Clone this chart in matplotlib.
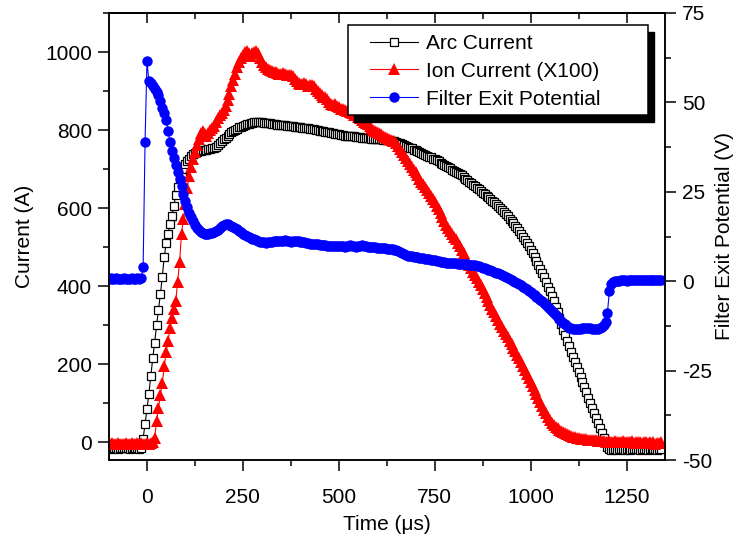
import numpy as np
import matplotlib
matplotlib.use('Agg')
import matplotlib.pyplot as plt
from matplotlib.patches import Rectangle
from matplotlib.ticker import MultipleLocator, NullFormatter

plt.rcParams['font.family'] = ['Liberation Sans', 'DejaVu Sans']
plt.rcParams['axes.unicode_minus'] = False

# sample times, 5 us apart
time_us = np.arange(-100, 1345, 5)

arc_current = [
    -15, -16, -15, -14, -15, -16, -15, -15, -14, -15,
    -15, -16, -15, -14, -15, -15, -16, -15, 10, 47,
    85, 125, 170, 215, 255, 300, 340, 380, 425, 475,
    510, 535, 560, 580, 605, 635, 655, 675, 690, 700,
    712, 720, 727, 733, 738, 742, 744, 746, 747, 748,
    749, 750, 751, 752, 753, 755, 758, 762, 766, 771,
    776, 781, 786, 790, 794, 798, 801, 804, 807, 809,
    811, 813, 815, 816, 818, 819, 820, 821, 821, 821,
    820, 819, 818, 818, 817, 816, 815, 815, 814, 813,
    813, 812, 812, 811, 811, 810, 810, 809, 808, 808,
    807, 806, 806, 805, 805, 804, 803, 802, 801, 800,
    799, 798, 797, 796, 795, 794, 793, 792, 791, 790,
    789, 787, 787, 786, 786, 785, 785, 784, 784, 783,
    783, 782, 781, 780, 780, 779, 779, 778, 778, 777,
    777, 776, 776, 775, 775, 774, 774, 773, 772, 771,
    770, 768, 766, 764, 762, 759, 757, 755, 753, 750,
    748, 746, 744, 741, 739, 737, 734, 732, 730, 727,
    725, 723, 720, 717, 714, 711, 708, 705, 702, 699,
    696, 693, 690, 687, 684, 680, 676, 672, 668, 664,
    660, 656, 652, 648, 644, 640, 636, 632, 628, 624,
    619, 615, 611, 606, 601, 596, 591, 585, 579, 573,
    567, 561, 555, 549, 541, 534, 526, 519, 511, 503,
    494, 485, 475, 465, 455, 445, 434, 423, 411, 399,
    387, 375, 362, 348, 333, 318, 303, 289, 274, 260,
    246, 232, 219, 206, 193, 180, 167, 154, 141, 128,
    115, 102, 89, 76, 62, 49, 36, 24, 12, 0,
    -12, -18, -19, -18, -18, -19, -18, -17, -18, -19,
    -18, -18, -19, -18, -17, -18, -18, -19, -18, -18,
    -18, -19, -18, -18, -17, -18, -19, -18, -18,
]

# ion current already multiplied by 100
ion_current = [
    -3, -5, -2, -4, -3, -1, -4, -3, -5, -2,
    -3, -4, -2, -5, -3, -1, -4, -2, -3, -4,
    -2, -3, -1, 2, 12, 55, 88, 122, 152, 195,
    232, 260, 292, 318, 342, 362, 412, 462, 535, 572,
    610, 652, 682, 705, 725, 745, 762, 776, 792, 797,
    790, 784, 792, 800, 805, 810, 820, 830, 838, 845,
    852, 862, 878, 893, 912, 928, 945, 962, 975, 985,
    993, 1000, 1002, 998, 990, 997, 1000, 1003, 998, 985,
    975, 968, 962, 957, 954, 952, 950, 948, 946, 944,
    944, 947, 943, 940, 942, 941, 938, 932, 926, 921,
    918, 918, 920, 917, 914, 916, 915, 912, 906, 900,
    895, 890, 886, 884, 880, 872, 866, 865, 866, 862,
    858, 855, 853, 851, 850, 848, 846, 843, 840, 838,
    834, 830, 826, 822, 818, 815, 811, 806, 800, 797,
    794, 792, 789, 786, 782, 779, 776, 774, 772, 771,
    768, 760, 752, 744, 736, 728, 720, 713, 706, 699,
    692, 684, 676, 668, 661, 654, 647, 640, 632, 624,
    615, 606, 597, 588, 578, 568, 558, 550, 542, 534,
    527, 520, 512, 503, 494, 485, 475, 465, 455, 446,
    437, 428, 420, 411, 402, 393, 383, 373, 363, 353,
    343, 333, 323, 313, 304, 295, 286, 278, 270, 261,
    252, 243, 234, 225, 215, 205, 195, 185, 175, 165,
    155, 145, 135, 125, 115, 104, 94, 84, 75, 66,
    58, 51, 45, 40, 36, 32, 29, 26, 23, 21,
    19, 17, 15, 13, 12, 11, 10, 9, 8, 8,
    7, 6, 6, 5, 5, 4, 4, 3, 3, 2,
    2, 3, 1, 2, 4, 1, 2, 0, 3, 1,
    2, 0, 1, 3, -1, 1, 2, 0, -2, 1,
    0, -1, 1, -2, 0, -3, -1, -2, 0,
]

filter_potential = [
    0.7, 0.8, 0.6, 0.7, 0.8, 0.7, 0.6, 0.7, 0.8, 0.7,
    0.7, 0.6, 0.8, 0.7, 0.7, 0.8, 0.6, 0.9, 4.0, 39.0,
    61.5, 56.0, 55.5, 54.5, 53.7, 53.0, 52.0, 50.5, 48.5, 47.0,
    45.0, 42.0, 39.0, 36.5, 34.5, 32.5, 30.5, 28.5, 26.5, 24.5,
    22.5, 20.8, 19.2, 18.0, 16.8, 15.8, 15.0, 14.3, 13.8, 13.4,
    13.2, 13.2, 13.3, 13.4, 13.6, 13.8, 14.0, 14.3, 14.8, 15.3,
    15.8, 16.0, 15.9, 15.7, 15.4, 15.1, 14.8, 14.5, 14.1, 13.7,
    13.3, 13.0, 12.7, 12.4, 12.1, 11.9, 11.7, 11.5, 11.3, 11.1,
    11.0, 10.9, 10.8, 10.9, 11.0, 11.1, 11.2, 11.3, 11.3, 11.2,
    11.3, 11.3, 11.4, 11.3, 11.2, 11.1, 11.2, 11.3, 11.3, 11.2,
    11.1, 11.0, 10.9, 10.7, 10.6, 10.5, 10.4, 10.4, 10.3, 10.3,
    10.2, 10.1, 10.0, 10.0, 9.9, 9.9, 9.9, 9.8, 9.8, 9.8,
    9.9, 9.9, 9.8, 9.7, 9.8, 9.9, 10.0, 9.9, 9.8, 9.7,
    9.8, 9.9, 10.0, 9.9, 9.8, 9.7, 9.6, 9.6, 9.5, 9.5,
    9.4, 9.4, 9.3, 9.3, 9.2, 9.1, 9.0, 9.0, 8.9, 8.8,
    8.7, 8.4, 8.1, 7.8, 7.5, 7.3, 7.1, 7.0, 7.0, 6.9,
    6.8, 6.7, 6.6, 6.5, 6.4, 6.3, 6.2, 6.1, 6.0, 5.9,
    5.8, 5.7, 5.6, 5.5, 5.4, 5.3, 5.2, 5.1, 5.1, 5.0,
    5.0, 5.0, 4.9, 4.9, 4.8, 4.8, 4.7, 4.7, 4.6, 4.6,
    4.6, 4.5, 4.3, 4.2, 4.0, 3.8, 3.6, 3.4, 3.2, 3.0,
    2.8, 2.6, 2.4, 2.2, 2.0, 1.8, 1.5, 1.3, 1.0, 0.7,
    0.4, 0.1, -0.2, -0.5, -0.8, -1.2, -1.5, -1.9, -2.3, -2.7,
    -3.1, -3.5, -3.9, -4.3, -4.7, -5.2, -5.6, -6.1, -6.6, -7.2,
    -7.7, -8.3, -8.8, -9.4, -9.9, -10.5, -11.0, -11.6, -12.1, -12.6,
    -13.0, -13.2, -13.4, -13.5, -13.5, -13.4, -13.3, -13.2, -13.1, -13.1,
    -13.1, -13.2, -13.3, -13.4, -13.5, -13.4, -13.2, -12.8, -12.3, -11.5,
    -8.8, -2.8, -0.8, -0.3, 0.0, 0.1, 0.1, 0.2, 0.2, 0.2,
    0.1, 0.2, 0.3, 0.2, 0.2, 0.3, 0.2, 0.2, 0.3, 0.3,
    0.2, 0.3, 0.3, 0.2, 0.3, 0.3, 0.2, 0.3, 0.3,
]

W, H = 743, 545
fig = plt.figure(figsize=(W / 100, H / 100), dpi=100)
ax = fig.add_axes([108.6 / W, 1 - 460 / H, (665 - 108.6) / W, (460 - 13) / H])

l1, = ax.plot(time_us, arc_current, '-s', color='black', lw=0.8, ms=6.3,
              mfc='white', mec='black', mew=0.9, label='Arc Current')
l2, = ax.plot(time_us, ion_current, '-^', color='red', lw=0.8, ms=8,
              mec='red', mew=0, label='Ion Current (X100)')
ax.set_xlim(-100, 1350)
ax.set_ylim(-45, 1100)

ax2 = ax.twinx()
l3, = ax2.plot(time_us, filter_potential, '-o', color='blue', lw=0.8, ms=7.5,
               mew=0, label='Filter Exit Potential')
ax2.set_ylim(-50, 75)

fs = 15
ax.xaxis.set_major_locator(MultipleLocator(250))
ax.xaxis.set_minor_locator(MultipleLocator(125))
ax.yaxis.set_major_locator(MultipleLocator(200))
ax.yaxis.set_minor_locator(MultipleLocator(100))
ax2.yaxis.set_major_locator(MultipleLocator(25))
ax2.yaxis.set_minor_locator(MultipleLocator(12.5))

ax.tick_params(which='both', direction='out', top=False, right=False,
               labelsize=fs, width=1.1)
ax.tick_params(which='major', length=8)
ax.tick_params(which='minor', length=4.5)
ax.tick_params(axis='x', pad=12)
ax.tick_params(axis='y', pad=4)
ax2.tick_params(which='both', direction='out', labelsize=fs, width=1.1, pad=4)
ax2.tick_params(which='major', length=8)
ax2.tick_params(which='minor', length=4.5)

top = ax.secondary_xaxis('top')
top.xaxis.set_major_locator(MultipleLocator(250))
top.xaxis.set_minor_locator(MultipleLocator(125))
top.xaxis.set_major_formatter(NullFormatter())
top.tick_params(which='both', direction='in', width=1.1)
top.tick_params(which='major', length=7)
top.tick_params(which='minor', length=4)

for a in (ax, ax2, top):
    for s in a.spines.values():
        s.set_linewidth(1.1)

ax.set_xlabel('Time (μs)', fontsize=fs, labelpad=6)
ax.set_ylabel('Current (A)', fontsize=fs, labelpad=8)
ax2.set_ylabel('Filter Exit Potential (V)', fontsize=fs, labelpad=2)

# legend box with a hard black shadow
bx0, by0, bx1, by1 = 0.4303, 0.7718, 0.9695, 0.973
ax2.add_patch(Rectangle((bx0 + 6 / 556.4, by0 - 7 / 447), bx1 - bx0, by1 - by0,
                        transform=ax2.transAxes, fc='black', ec='black',
                        zorder=4, clip_on=False))
ax2.add_patch(Rectangle((bx0, by0), bx1 - bx0, by1 - by0, transform=ax2.transAxes,
                        fc='white', ec='black', lw=1.1, zorder=4.5, clip_on=False))
leg = ax2.legend([l1, l2, l3], [l.get_label() for l in (l1, l2, l3)],
                 loc='upper left', bbox_to_anchor=(0.4698, 0.953),
                 borderaxespad=0, borderpad=0, frameon=False, fontsize=15,
                 handlelength=2.3, handletextpad=0.38, labelspacing=0.42,
                 numpoints=1)
leg.set_zorder(5)

fig.savefig('out.png', dpi=100)
